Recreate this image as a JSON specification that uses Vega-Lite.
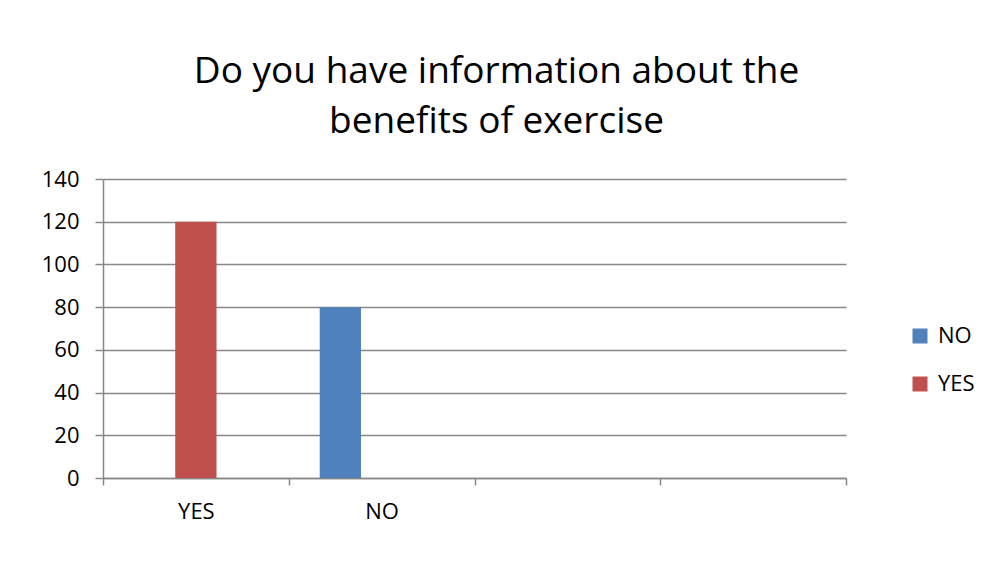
{
  "$schema": "https://vega.github.io/schema/vega-lite/v6.json",
  "autosize": {"type": "none"},
  "width": 743,
  "height": 299,
  "padding": {"left": 103, "top": 179, "right": 140, "bottom": 88},
  "background": "white",
  "title": {
    "text": ["Do you have information about the", "benefits of exercise"],
    "font": "Open Sans",
    "fontSize": 37,
    "fontWeight": "normal",
    "color": "#000000",
    "anchor": "middle",
    "dx": 22,
    "lineHeight": 50,
    "offset": 27
  },
  "data": {
    "values": [
      {"category": "YES", "series": "YES", "value": 120},
      {"category": "NO", "series": "NO", "value": 80}
    ]
  },
  "mark": {"type": "bar"},
  "encoding": {
    "x": {
      "field": "category",
      "type": "nominal",
      "sort": null,
      "scale": {"domain": ["YES", "NO", " ", "  "], "paddingInner": 0, "paddingOuter": 0},
      "axis": {
        "title": null,
        "labelAngle": 0,
        "tickBand": "extent",
        "tickSize": 7,
        "tickColor": "#888888",
        "tickWidth": 1.5,
        "domainColor": "#888888",
        "domainWidth": 1.5,
        "labelFont": "Open Sans",
        "labelFontSize": 22,
        "labelColor": "#000000",
        "labelPadding": 16,
        "grid": false
      }
    },
    "xOffset": {
      "field": "series",
      "type": "nominal",
      "scale": {"domain": ["NO", "YES", "blank"], "paddingInner": 0, "paddingOuter": 0.75}
    },
    "y": {
      "field": "value",
      "type": "quantitative",
      "scale": {"domain": [0, 140], "nice": false},
      "axis": {
        "title": null,
        "values": [0, 20, 40, 60, 80, 100, 120, 140],
        "tickSize": 8,
        "tickColor": "#888888",
        "tickWidth": 1.5,
        "domainColor": "#888888",
        "domainWidth": 1.5,
        "gridColor": "#888888",
        "gridWidth": 1.5,
        "labelFont": "Open Sans",
        "labelFontSize": 22,
        "labelColor": "#000000",
        "labelPadding": 16
      }
    },
    "color": {
      "field": "series",
      "type": "nominal",
      "scale": {"domain": ["NO", "YES"], "range": ["#4F81BD", "#C0504D"]},
      "legend": {
        "title": null,
        "orient": "none",
        "legendX": 806,
        "legendY": 146,
        "padding": 0,
        "symbolType": "square",
        "symbolSize": 225,
        "symbolStrokeWidth": 0,
        "labelFont": "Open Sans",
        "labelFontSize": 22,
        "labelColor": "#000000",
        "labelOffset": 7,
        "rowPadding": 26
      }
    }
  },
  "config": {
    "view": {"stroke": null},
    "axis": {"gridOpacity": 1}
  }
}
